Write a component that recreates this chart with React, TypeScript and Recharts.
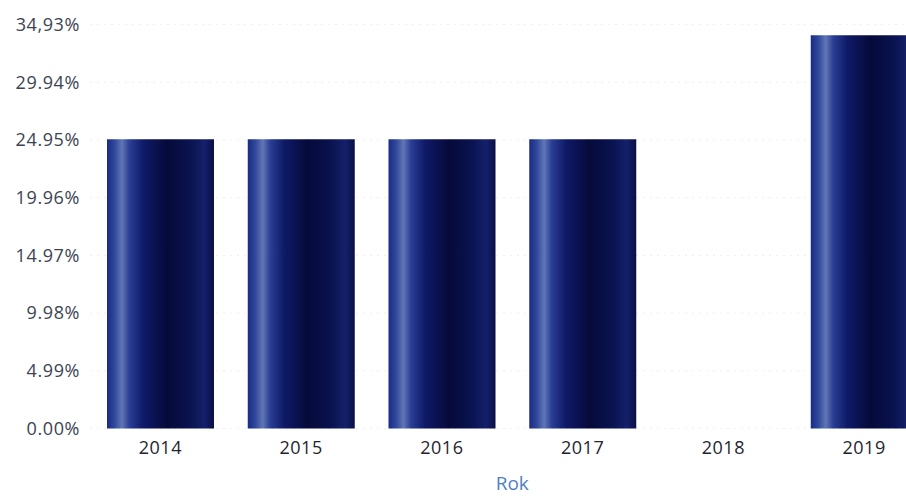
import { BarChart, Bar, XAxis, YAxis, CartesianGrid, Label } from "recharts";

const years = ["2014", "2015", "2016", "2017", "2018", "2019"];
const shares: (number | null)[] = [25.0, 25.0, 25.0, 25.0, null, 34.0];
const yTicks = [0, 4.99, 9.98, 14.97, 19.96, 24.95, 29.94, 34.93];
const yTickLabels = ["0.00%", "4.99%", "9.98%", "14.97%", "19.96%", "24.95%", "29.94%", "34,93%"];

const data = years.map((rok, i) => ({ rok, udzial: shares[i] }));

const fmtY = (v: number) => {
    const idx = yTicks.indexOf(v);
    return idx >= 0 ? yTickLabels[idx] : `${v}%`;
};

export default function App() {
    return (
        <div style={{ position: "fixed", left: 0, top: 0, width: 906, height: 497, overflow: "hidden", background: "#fff" }}>
            <BarChart
                width={950}
                height={497}
                data={data}
                margin={{ top: 24.5, right: 15.5, bottom: 0, left: 0 }}
                style={{ fontFamily: "'Open Sans', sans-serif" }}
            >
                <defs>
                    <linearGradient id="barFill" x1="0" y1="0" x2="1" y2="0">
                        <stop offset="0%" stopColor="#1b2a88" />
                        <stop offset="7%" stopColor="#2f4899" />
                        <stop offset="14%" stopColor="#6176b6" />
                        <stop offset="21%" stopColor="#2a3e94" />
                        <stop offset="34%" stopColor="#0f1a68" />
                        <stop offset="56%" stopColor="#060a3a" />
                        <stop offset="78%" stopColor="#0a1350" />
                        <stop offset="91%" stopColor="#14206a" />
                        <stop offset="100%" stopColor="#0a0f44" />
                    </linearGradient>
                </defs>
                <CartesianGrid vertical={false} stroke="#efefef" strokeDasharray="2 5" />
                <XAxis
                    dataKey="rok"
                    height={68.5}
                    axisLine={false}
                    tickLine={false}
                    tickSize={0}
                    tickMargin={13}
                    tick={{ fill: "#1f2530", fontSize: 18, letterSpacing: 0.5 }}
                    interval={0}
                >
                    <Label value="Rok" position="insideBottom" offset={7} fill="#4f80c6" fontSize={19} />
                </XAxis>
                <YAxis
                    width={90}
                    domain={[0, 34.93]}
                    ticks={yTicks}
                    tickFormatter={fmtY}
                    axisLine={false}
                    tickLine={false}
                    tickSize={0}
                    tickMargin={10}
                    tick={{ fill: "#3c4452", fontSize: 18, letterSpacing: 0.6 }}
                    interval={0}
                />
                <Bar dataKey="udzial" fill="url(#barFill)" barSize={107} isAnimationActive={false} />
            </BarChart>
        </div>
    );
}
